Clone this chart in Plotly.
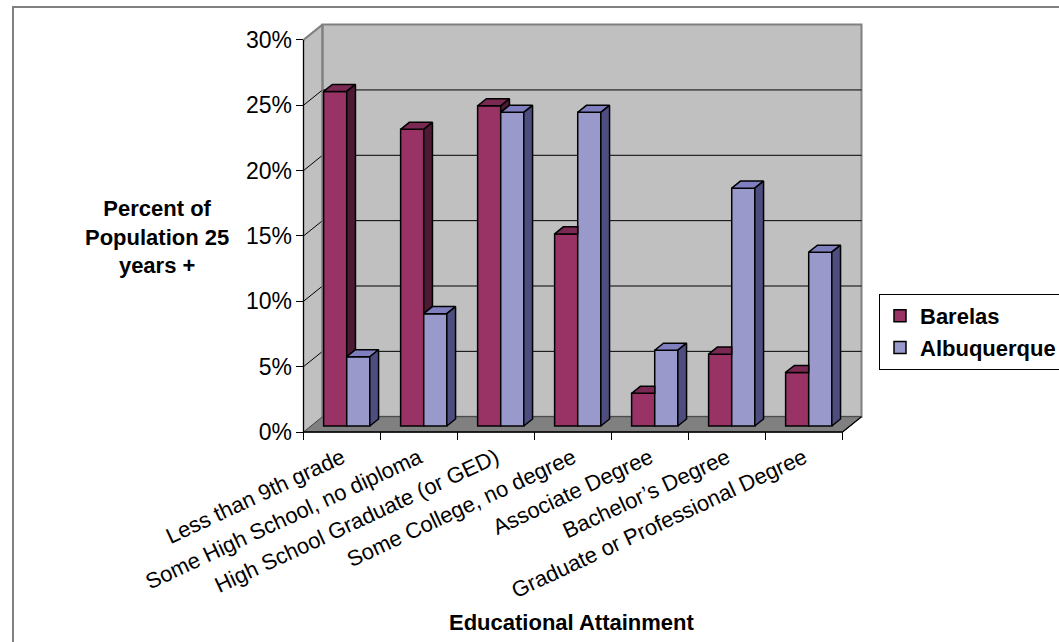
import plotly.graph_objects as go

# ---- data -------------------------------------------------------------
categories = [
    "Less than 9th grade",
    "Some High School, no diploma",
    "High School Graduate (or GED)",
    "Some College, no degree",
    "Associate Degree",
    "Bachelor\u2019s Degree",
    "Graduate or Professional Degree",
]
barelas = [25.6, 22.7, 24.5, 14.7, 2.5, 5.5, 4.1]
albuquerque = [5.3, 8.6, 24.0, 24.0, 5.8, 18.2, 13.3]
y_tick_vals = [0, 5, 10, 15, 20, 25, 30]
y_tick_text = ["0%", "5%", "10%", "15%", "20%", "25%", "30%"]

# ---- geometry of the pseudo-3D box --------------------------------------
W, H = 1059, 642
PX_CAT = 77.0          # pixels per category slot
PX_PCT = 13.07         # pixels per percentage point
X0_PX, Y0_PX = 303.5, 432.0   # front-left floor corner
PL, PR, PT, PB = 296, 872, 16, 440   # plot area in pixels
DX = 19.0 / PX_CAT     # full wall depth, in category units
DY = 15.3 / PX_PCT     # full wall depth, in percentage units
F0, F1 = 0.39, 0.85    # depth band occupied by the columns
BW = 0.30              # column width (category units)
OFF_B, OFF_A = -0.335, -0.035

n = len(categories)
idx = list(range(n))
xmin = -0.5 - (X0_PX - PL) / PX_CAT
xmax = -0.5 + (PR - X0_PX) / PX_CAT
ymin = -(PB - Y0_PX) / PX_PCT
ymax = (Y0_PX - PT) / PX_PCT
YTOP = y_tick_vals[-1]
XL, XR = -0.5, n - 0.5

FONT = "Liberation Sans, Arial, sans-serif"
C_B, C_B_TOP, C_B_SIDE = "#993366", "#7A2952", "#4C1A33"
C_A, C_A_TOP, C_A_SIDE = "#9999CC", "#7F7FC0", "#4D4D80"


def paper_x(px):
    return (px - PL) / (PR - PL)


def paper_y(py):
    return (PB - py) / (PB - PT)


def path(points):
    return "M " + " L ".join(f"{x},{y}" for x, y in points) + " Z"


shapes = []
# outer chart frame
shapes.append(dict(type="rect", xref="paper", yref="paper",
                   x0=paper_x(13), x1=paper_x(1080), y0=paper_y(7), y1=paper_y(670),
                   line=dict(color="#808080", width=2), fillcolor="white", layer="below"))
# left side wall
shapes.append(dict(type="path", xref="x", yref="y", layer="below",
                   path=path([(XL, 0), (XL, YTOP), (XL + DX, YTOP + DY), (XL + DX, DY)]),
                   fillcolor="#C0C0C0", line=dict(width=0)))
# back wall
shapes.append(dict(type="rect", xref="x", yref="y", layer="below",
                   x0=XL + DX, x1=XR + DX, y0=DY, y1=YTOP + DY,
                   fillcolor="#C0C0C0", line=dict(color="#808080", width=2)))
# floor
shapes.append(dict(type="path", xref="x", yref="y", layer="below",
                   path=path([(XL, 0), (XR, 0), (XR + DX, DY), (XL + DX, DY)]),
                   fillcolor="#808080", line=dict(color="#404040", width=1)))
# gridlines on back wall and left wall
for v in y_tick_vals[1:-1]:
    shapes.append(dict(type="line", xref="x", yref="y", layer="below",
                       x0=XL + DX, x1=XR + DX, y0=v + DY, y1=v + DY,
                       line=dict(color="black", width=1)))
    shapes.append(dict(type="line", xref="x", yref="y", layer="below",
                       x0=XL, x1=XL + DX, y0=v, y1=v + DY,
                       line=dict(color="black", width=1)))
# top edge of the left wall
shapes.append(dict(type="line", xref="x", yref="y", layer="below",
                   x0=XL, x1=XL + DX, y0=YTOP, y1=YTOP + DY,
                   line=dict(color="#808080", width=2)))
# back-left wall corner
shapes.append(dict(type="line", xref="x", yref="y", layer="below",
                   x0=XL + DX, x1=XL + DX, y0=DY, y1=YTOP + DY,
                   line=dict(color="#808080", width=2)))
# floor right edge
shapes.append(dict(type="line", xref="x", yref="y", layer="below",
                   x0=XR, x1=XR + DX, y0=0, y1=DY,
                   line=dict(color="black", width=1.2)))
# value axis line and category axis line
shapes.append(dict(type="line", xref="x", yref="y", layer="below",
                   x0=XL, x1=XL, y0=0, y1=YTOP, line=dict(color="black", width=1.3)))
shapes.append(dict(type="line", xref="x", yref="y", layer="below",
                   x0=XL, x1=XR, y0=0, y1=0, line=dict(color="black", width=1.3)))
# category boundary ticks
for k in range(n + 1):
    shapes.append(dict(type="line", xref="x", yref="y", layer="below",
                       x0=XL + k, x1=XL + k, y0=0, y1=ymin,
                       line=dict(color="black", width=1)))

fig = go.Figure()

sx, sy = F0 * DX, F0 * DY          # shift of the column front plane
ddx, ddy = (F1 - F0) * DX, (F1 - F0) * DY   # column depth

fig.add_trace(go.Bar(
    x=idx, y=barelas, base=sy, offset=sx + OFF_B, width=BW, name="Barelas",
    legendgroup="b", marker=dict(color=C_B, line=dict(color="black", width=1.5)),
    hovertemplate="%{text}<br>Barelas: %{y}%<extra></extra>", text=categories,
    textposition="none"))
fig.add_trace(go.Bar(
    x=idx, y=albuquerque, base=sy, offset=sx + OFF_A, width=BW, name="Albuquerque",
    legendgroup="a", marker=dict(color=C_A, line=dict(color="black", width=1.5)),
    hovertemplate="%{text}<br>Albuquerque: %{y}%<extra></extra>", text=categories,
    textposition="none"))

# top and side faces of the columns
faces = {"b_top": ([], []), "b_side": ([], []), "a_top": ([], []), "a_side": ([], [])}


def add_poly(key, pts):
    xs, ys = faces[key]
    for x, y in pts + [pts[0]]:
        xs.append(x)
        ys.append(y)
    xs.append(None)
    ys.append(None)


for i, (b, a) in enumerate(zip(barelas, albuquerque)):
    xl = i + sx + OFF_B
    xm = xl + BW
    xr = xm + BW
    yb, ya = sy + b, sy + a
    if b >= a:
        add_poly("b_top", [(xl, yb), (xm, yb), (xm + ddx, yb + ddy), (xl + ddx, yb + ddy)])
        add_poly("b_side", [(xm, ya), (xm + ddx, ya + ddy), (xm + ddx, yb + ddy), (xm, yb)])
    else:
        add_poly("b_top", [(xl, yb), (xm, yb), (xm, yb + ddy), (xl + ddx, yb + ddy)])
    add_poly("a_top", [(xm, ya), (xr, ya), (xr + ddx, ya + ddy), (xm + ddx, ya + ddy)])
    add_poly("a_side", [(xr, sy), (xr + ddx, sy + ddy), (xr + ddx, ya + ddy), (xr, ya)])

for key, color in [("b_top", C_B_TOP), ("b_side", C_B_SIDE),
                   ("a_top", C_A_TOP), ("a_side", C_A_SIDE)]:
    xs, ys = faces[key]
    fig.add_trace(go.Scatter(x=xs, y=ys, mode="lines", fill="toself", fillcolor=color,
                             line=dict(color="black", width=1.5), showlegend=False,
                             hoverinfo="skip"))

annotations = [
    dict(text="<b>Percent of<br>Population 25<br>years +</b>", xref="paper", yref="paper",
         x=paper_x(157), y=paper_y(237), xanchor="center", yanchor="middle",
         showarrow=False, align="center", font=dict(size=22, family=FONT, color="black")),
    dict(text="<b>Educational Attainment</b>", xref="paper", yref="paper",
         x=paper_x(572), y=paper_y(622), xanchor="center", yanchor="middle",
         showarrow=False, font=dict(size=22, family=FONT, color="black")),
]

fig.update_layout(
    width=W, height=H,
    margin=dict(l=PL, r=W - PR, t=PT, b=H - PB, autoexpand=False),
    paper_bgcolor="white", plot_bgcolor="rgba(0,0,0,0)",
    barmode="overlay",
    shapes=shapes, annotations=annotations,
    font=dict(family=FONT, size=21, color="black"),
    xaxis=dict(range=[xmin, xmax], tickmode="array", tickvals=idx, ticktext=categories,
               tickangle=-25, ticks="", showgrid=False, zeroline=False, showline=False,
               tickfont=dict(size=22, family=FONT, color="black"), fixedrange=True),
    yaxis=dict(range=[ymin, ymax], tickmode="array", tickvals=y_tick_vals,
               ticktext=y_tick_text, ticks="inside", ticklen=7, tickcolor="black",
               tickwidth=1, showgrid=False, zeroline=False, showline=False,
               ticklabelstandoff=3,
               tickfont=dict(size=23, family=FONT, color="black"), fixedrange=True),
    legend=dict(x=paper_x(879), y=paper_y(294), xanchor="left", yanchor="top",
                bgcolor="white", bordercolor="black", borderwidth=1,
                font=dict(size=22, family=FONT, color="black", weight="bold"),
                tracegroupgap=8, traceorder="normal"),
)

fig.write_html("out.html")
